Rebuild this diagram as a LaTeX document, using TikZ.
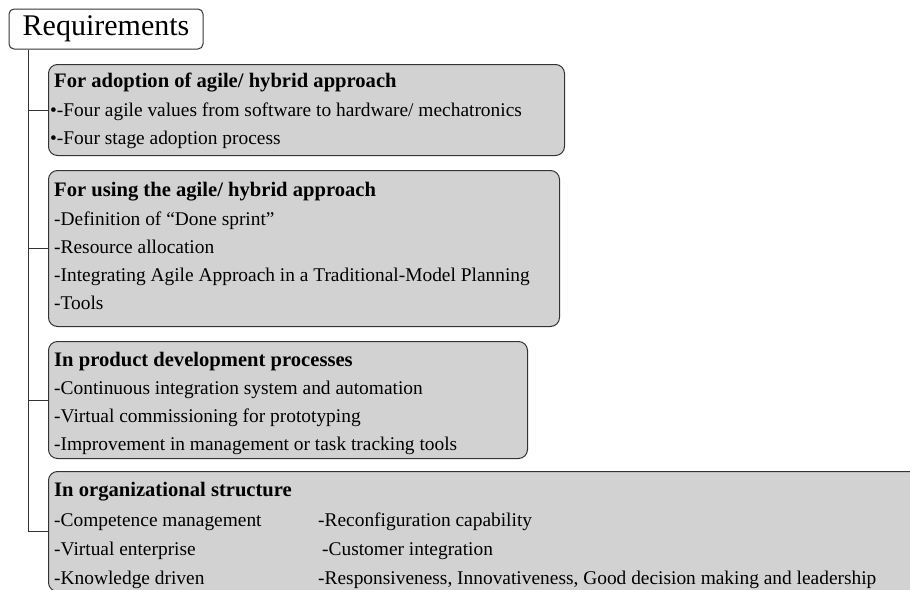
\documentclass[tikz,border=0pt]{standalone}
\usepackage{fontspec}
\setmainfont{Liberation Serif}
\definecolor{boxfill}{HTML}{D2D2D2}
\definecolor{edge}{HTML}{333333}
\begin{document}
\begin{tikzpicture}[x=1pt,y=-1pt,
  box/.style={draw=edge, line width=1pt, fill=boxfill, rounded corners=9pt, anchor=north west, inner sep=0pt},
  rootbox/.style={draw=edge, line width=1pt, fill=white, rounded corners=5pt, inner sep=0pt, minimum width=194pt, minimum height=40pt, font=\fontsize{30}{32}\selectfont},
  head/.style={anchor=base west, inner sep=0pt, font=\fontsize{20.6}{23}\selectfont\bfseries},
  item/.style={anchor=base west, inner sep=0pt, font=\fontsize{19.4}{22}\selectfont},
  link/.style={draw=edge, line width=1pt}]
\clip (0,0) rectangle (910,589);
\fill[white] (0,0) rectangle (910,589);

\node[rootbox] (req) at (106,29) {Requirements};

\node[box, minimum width=516pt, minimum height=91pt] (b1) at (48,64) {};
\node[box, minimum width=511pt, minimum height=156pt] (b2) at (48,170) {};
\node[box, minimum width=479pt, minimum height=117pt] (b3) at (48,341) {};
\node[box, minimum width=880pt, minimum height=120pt] (b4) at (48,471) {};

\coordinate (top) at ([xshift=20pt]req.south west);
\draw[link] (top) |- (b4.west);
\draw[link] (top |- b1.west) -- (b1.west);
\draw[link] (top |- b2.west) -- (b2.west);
\draw[link] (top |- b3.west) -- (b3.west);

\node[head] (h1) at (54,87) {For adoption of agile/ hybrid approach};
\node[item] (t11) at (50,116) {•-Four agile values from software to hardware/ mechatronics};
\node[item] (t12) at (50,144) {•-Four stage adoption process};

\node[head] (h2) at (54,196) {For using the agile/ hybrid approach};
\node[item] (t21) at (54,225) {-Definition of “Done sprint”};
\node[item] (t22) at (54,253) {-Resource allocation};
\node[item] (t23) at (54,281) {-Integrating Agile Approach in a Traditional-Model Planning};
\node[item] (t24) at (54,309) {-Tools};

\node[head] (h3) at (54,366) {In product development processes};
\node[item] (t31) at (54,394) {-Continuous integration system and automation};
\node[item] (t32) at (54,422) {-Virtual commissioning for prototyping};
\node[item] (t33) at (54,450) {-Improvement in management or task tracking tools};

\node[head] (h4) at (54,496) {In organizational structure};
\node[item] (t41) at (54,526) {-Competence management};
\node[item] (t42) at (54,555) {-Virtual enterprise};
\node[item] (t43) at (54,584) {-Knowledge driven};
\node[item] (t44) at (318,526) {-Reconfiguration capability};
\node[item] (t45) at (322,555) {-Customer integration};
\node[item] (t46) at (318,584) {-Responsiveness, Innovativeness, Good decision making and leadership};
\end{tikzpicture}
\end{document}
